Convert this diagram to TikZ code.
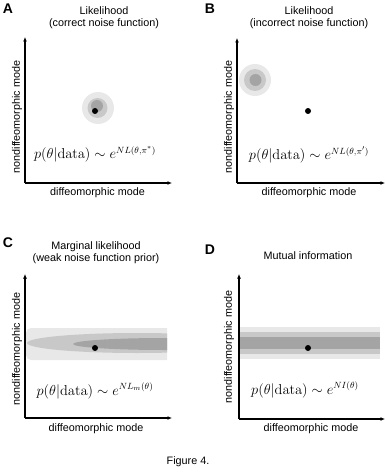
\documentclass[tikz,border=0pt]{standalone}
\usepackage[no-math]{fontspec}
\setmainfont{Liberation Sans}
\usetikzlibrary{arrows.meta}
\definecolor{gLight}{HTML}{E8E8E8}
\definecolor{gMid}{HTML}{C8C8C8}
\definecolor{gDark}{HTML}{A4A4A4}
\begin{document}
\begin{tikzpicture}[x=1pt,y=-1pt,
  lab/.style={font=\fontsize{10.8}{12}\selectfont, inner sep=0pt},
  panel/.style={font=\bfseries\fontsize{14}{16}\selectfont, inner sep=0pt},
  formula/.style={font=\fontsize{13.5}{16}\selectfont, inner sep=0pt},
  axis/.style={line width=1.1pt, -{Latex[length=4.5pt,width=4pt]}},
  dotmark/.style={circle, fill=black, inner sep=0pt, minimum size=6pt},
]
\useasboundingbox (0,0) rectangle (385,476);

% ---------------- Panel A ----------------
\node[panel] (Alab) at (8,9) {A};
\node[lab] (At1) at (104,11) {Likelihood};
\node[lab] (At2) at (104,24) {(correct noise function)};
\fill[gLight] (98,108) circle[radius=16];
\fill[gMid] (97.5,108) circle[radius=10];
\fill[gDark] (97,106) circle[radius=6];
\node[dotmark] (Adot) at (95,111) {};
\coordinate (Ao) at (25,183);
\coordinate (Ay) at (25,37);
\coordinate (Ax) at (172,183);
\draw[axis] (Ao) -- (Ay);
\draw[axis] (Ao) -- (Ax);
\node[lab, rotate=90] (Aylab) at (17,117) {nondiffeomorphic mode};
\node[lab] (Axlab) at (97.5,193) {diffeomorphic mode};
\node[formula] (Af) at (95,154) {$p(\theta|\mathrm{data}) \sim e^{NL(\theta,\pi^*)}$};

% ---------------- Panel B ----------------
\node[panel] (Blab) at (210,9) {B};
\node[lab] (Bt1) at (309,11) {Likelihood};
\node[lab] (Bt2) at (309,24) {(incorrect noise function)};
\fill[gLight] (255,80) circle[radius=16];
\fill[gMid] (255,80) circle[radius=11];
\fill[gDark] (255.5,80) circle[radius=6];
\node[dotmark] (Bdot) at (308,111) {};
\coordinate (Bo) at (237,183);
\coordinate (By) at (237,38);
\coordinate (Bx) at (385,183);
\draw[axis] (Bo) -- (By);
\draw[axis] (Bo) -- (Bx);
\node[lab, rotate=90] (Bylab) at (229,117) {nondiffeomorphic mode};
\node[lab] (Bxlab) at (309,193) {diffeomorphic mode};
\node[formula] (Bf) at (309,155) {$p(\theta|\mathrm{data}) \sim e^{NL(\theta,\pi')}$};

% ---------------- Panel C ----------------
\node[panel] (Clab) at (8,243) {C};
\node[lab] (Ct1) at (96,247) {Marginal likelihood};
\node[lab] (Ct2) at (96,259) {(weak noise function prior)};
\begin{scope}
  \clip (25,320) rectangle (167,370);
  \fill[gLight, rounded corners=5pt] (26,328) rectangle (200,360);
  \fill[gMid] (137,343) ellipse[x radius=110, y radius=10];
  \fill[gDark] (165,344) ellipse[x radius=92, y radius=6];
\end{scope}
\node[dotmark] (Cdot) at (95,348) {};
\coordinate (Co) at (25,418);
\coordinate (Cy) at (25,274);
\coordinate (Cx) at (172,418);
\draw[axis] (Co) -- (Cy);
\draw[axis] (Co) -- (Cx);
\node[lab, rotate=90] (Cylab) at (17,349) {nondiffeomorphic mode};
\node[lab] (Cxlab) at (96,429) {diffeomorphic mode};
\node[formula] (Cf) at (95,391) {$p(\theta|\mathrm{data}) \sim e^{NL_m(\theta)}$};

% ---------------- Panel D ----------------
\node[panel] (Dlab) at (210,250) {D};
\node[lab] (Dt1) at (308,256) {Mutual information};
\fill[gLight] (239,327) rectangle (380,359);
\fill[gMid] (239,332) rectangle (380,354);
\fill[gDark] (239,337) rectangle (380,349);
\node[dotmark] (Ddot) at (308,348) {};
\coordinate (Do) at (239,419);
\coordinate (Dy) at (239,274);
\coordinate (Dx) at (385,419);
\draw[axis] (Do) -- (Dy);
\draw[axis] (Do) -- (Dx);
\node[lab, rotate=90] (Dylab) at (229,347) {nondiffeomorphic mode};
\node[lab] (Dxlab) at (311,429) {diffeomorphic mode};
\node[formula] (Df) at (305,390) {$p(\theta|\mathrm{data}) \sim e^{NI(\theta)}$};

% ---------------- Caption ----------------
\node[lab] (cap) at (188,462) {Figure 4.};
\end{tikzpicture}
\end{document}
